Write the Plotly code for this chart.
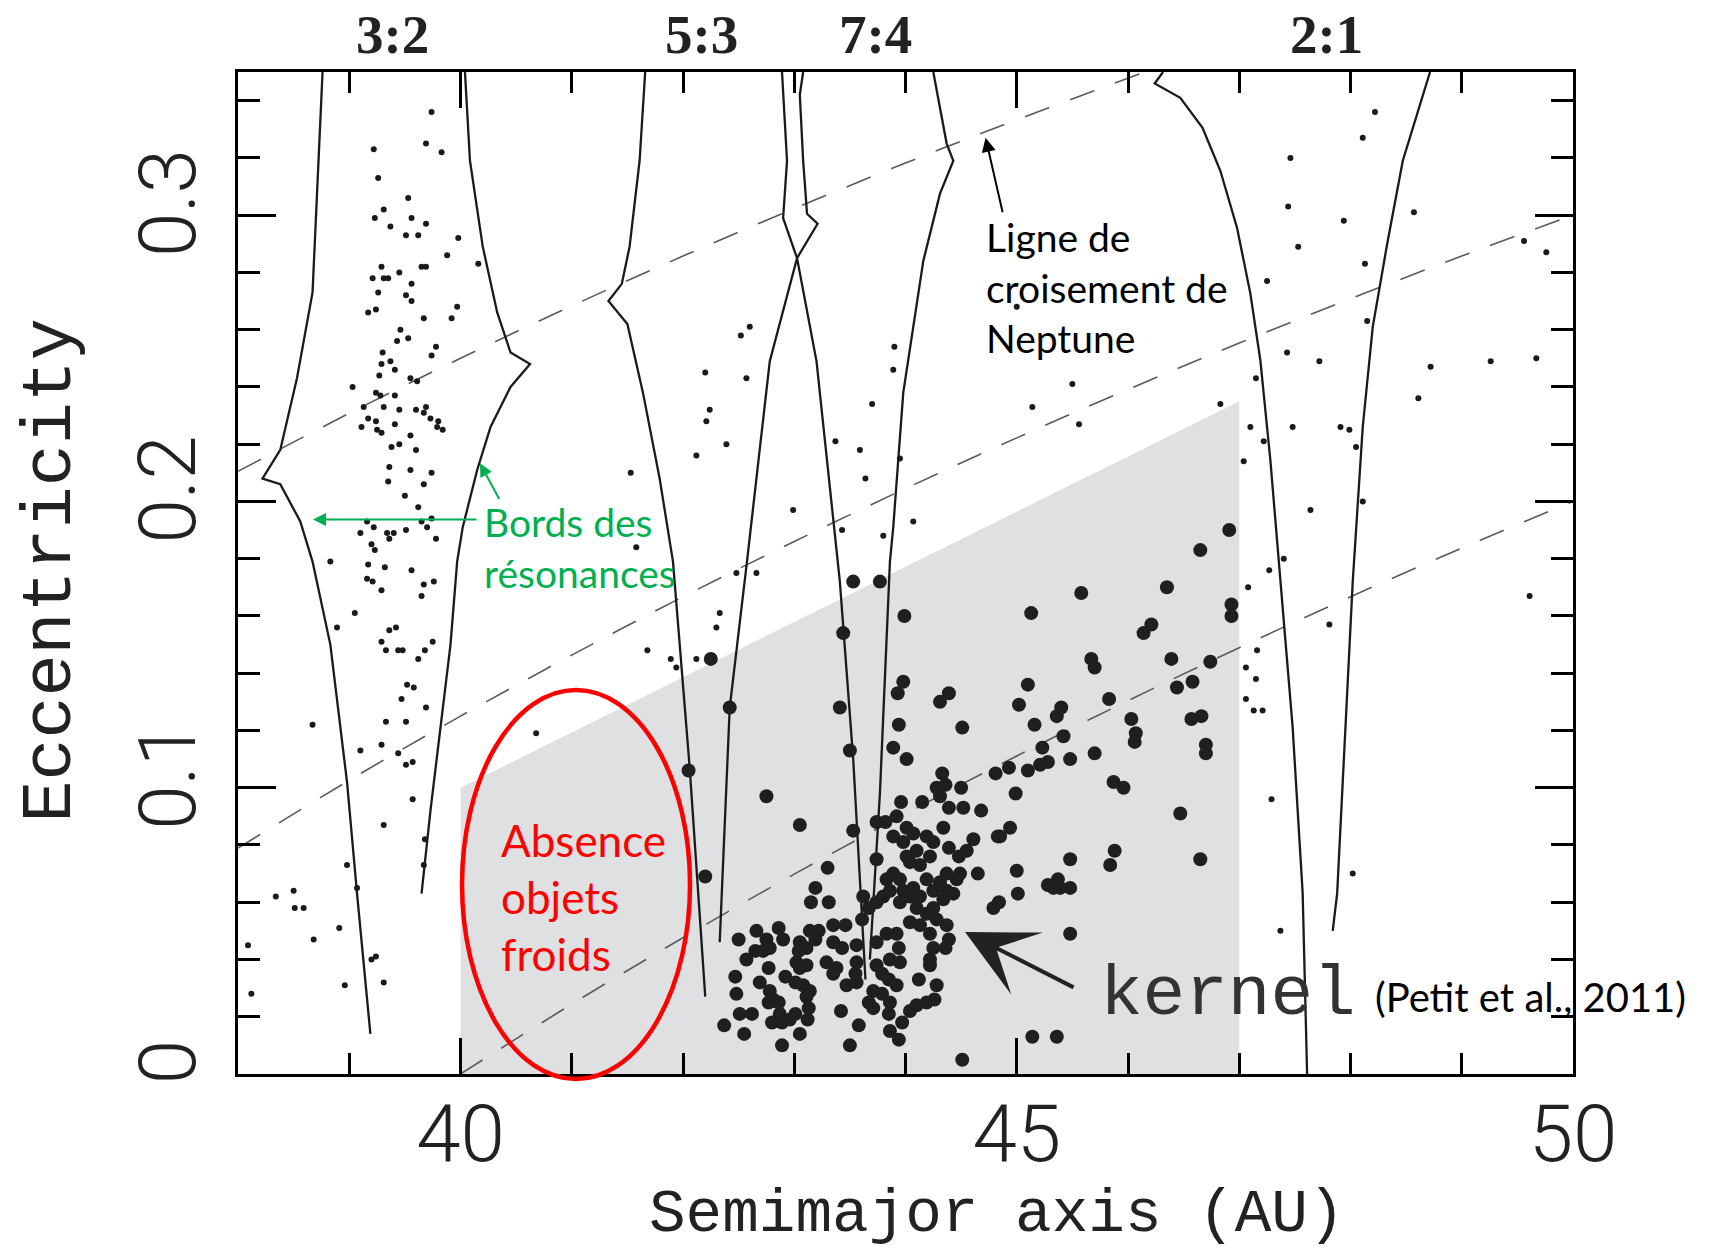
import plotly.graph_objects as go

# ---------------- data ----------------
# shaded "cold classical" region (a in AU, e)
cold_a = [40.0, 40.0, 47.0, 47.0, 40.0]
cold_e = [0.0, 0.100, 0.235, 0.0, 0.0]

# Neptune-crossing (dashed) lines
nep1_a = [38.0, 39.0, 40.0, 41.0, 42.0, 43.0, 44.0, 45.0, 46.15]
nep1_e = [0.2105, 0.2308, 0.250, 0.2683, 0.2857, 0.3023, 0.3182, 0.3333, 0.350]
nep2_a = [38.0, 39.0, 40.0, 41.0, 42.0, 43.0, 44.0, 45.0, 46.0, 47.0, 48.0, 49.0, 50.0]
nep2_e = [0.0789, 0.1026, 0.125, 0.1463, 0.1667, 0.186, 0.2045, 0.2222, 0.2391, 0.2553, 0.2708, 0.2857, 0.300]
nep3_a = [40.0, 41.0, 42.0, 43.0, 44.0, 45.0, 46.0, 47.0, 48.0, 49.0, 50.0]
nep3_e = [0.0, 0.0244, 0.0476, 0.0698, 0.0909, 0.1111, 0.1304, 0.1489, 0.1667, 0.1837, 0.200]

# resonance borders
l32_a = [38.76, 38.67, 38.53, 38.38, 38.22, 38.38, 38.56, 38.67, 38.83, 38.98, 39.07, 39.19]
l32_e = [0.350, 0.273, 0.243, 0.218, 0.208, 0.206, 0.193, 0.179, 0.150, 0.102, 0.063, 0.014]
r32_a = [40.04, 40.085, 40.20, 40.33, 40.45, 40.625, 40.45, 40.27, 40.15, 40.02, 39.97, 39.91, 39.82, 39.73, 39.65]
r32_e = [0.350, 0.319, 0.289, 0.266, 0.252, 0.248, 0.240, 0.226, 0.211, 0.191, 0.179, 0.150, 0.121, 0.092, 0.063]
l53_a = [41.66, 41.61, 41.52, 41.45, 41.33, 41.50, 41.64, 41.79, 41.91, 42.06, 42.20]
l53_e = [0.350, 0.319, 0.289, 0.276, 0.270, 0.262, 0.238, 0.208, 0.179, 0.107, 0.027]
r53_a = [42.33, 42.42, 42.575, 42.78, 43.025, 43.21, 43.115, 43.08, 43.05, 43.08]
r53_e = [0.046, 0.128, 0.179, 0.249, 0.285, 0.297, 0.3005, 0.319, 0.342, 0.350]
l74_a = [42.89, 42.935, 42.90, 43.025, 43.20, 43.41, 43.53, 43.64]
l74_e = [0.350, 0.319, 0.299, 0.285, 0.249, 0.172, 0.110, 0.033]
r74_a = [44.25, 44.29, 44.37, 44.43, 44.31, 44.16, 43.98, 43.89, 43.86, 43.77, 43.68]
r74_e = [0.350, 0.342, 0.325, 0.319, 0.3075, 0.284, 0.238, 0.191, 0.179, 0.098, 0.040]
l21_a = [46.315, 46.24, 46.47, 46.67, 46.83, 46.98, 47.10, 47.19, 47.28, 47.37, 47.48, 47.57, 47.61]
l21_e = [0.350, 0.346, 0.341, 0.3305, 0.3155, 0.2956, 0.2726, 0.2492, 0.2143, 0.1724, 0.1211, 0.0632, 0.0]
r21_a = [48.715, 48.47, 48.33, 48.20, 48.11, 48.02, 47.97, 47.88, 47.84]
r21_e = [0.350, 0.319, 0.290, 0.261, 0.226, 0.172, 0.133, 0.063, 0.050]

# small (hot / resonant) objects
small_a = [
    39.74, 39.69, 39.22, 39.83, 39.26, 39.53, 39.31, 39.23, 39.56, 39.69, 39.37, 39.51, 39.62, 39.98,
    39.88, 40.16, 39.29, 39.65, 39.69, 39.45, 39.21, 39.31, 39.35, 39.56, 39.26, 39.51, 39.56, 39.17,
    39.24, 39.97, 39.67, 39.92, 39.46, 39.43, 39.53, 39.78, 39.74, 39.30, 39.37, 39.29, 39.41, 39.27,
    39.55, 39.61, 39.03, 39.24, 39.28, 39.41, 39.13, 39.31, 39.69, 39.45, 39.60, 39.67, 39.73, 39.17,
    39.24, 39.80, 39.11, 39.25, 39.29, 39.41, 39.79, 39.84, 39.55, 39.45, 39.38, 39.60, 39.36, 39.55,
    39.74, 39.35, 39.67, 39.50, 39.62, 41.53, 41.58, 39.16, 39.22, 39.65, 39.74, 39.70, 39.10, 39.34,
    39.40, 39.51, 39.36, 39.78, 39.20, 39.23, 38.83, 39.17, 39.32, 39.56,
    39.16, 39.21, 39.29, 39.67, 39.76, 39.65, 39.05, 38.89, 39.36, 39.42, 39.29, 39.33, 39.44, 39.48,
    39.68, 39.75, 39.62, 39.52, 39.58, 39.47, 39.69, 38.67, 39.33, 39.51, 39.29, 39.10, 39.44, 39.51,
    39.57, 39.57, 39.31, 39.68, 38.98, 39.67, 39.07, 38.34, 38.50, 38.51, 38.59, 38.91, 38.68, 38.09,
    39.20, 39.24, 38.96, 39.31, 38.12, 40.68, 41.68, 41.89, 41.94,
    42.60, 42.52, 42.20, 42.57, 42.24, 42.21, 42.39, 42.12, 43.90, 43.89, 43.70, 43.37, 43.59, 43.95,
    43.64, 42.99, 43.43, 43.80, 44.07, 42.48, 42.66, 45.00, 45.50, 45.14, 45.56,
    48.22, 48.11, 47.46, 47.44, 48.57, 47.94, 47.53, 47.25, 48.13, 48.15, 49.56, 49.76, 47.43, 47.72,
    48.72, 49.26, 49.67, 47.15, 48.61, 46.83, 47.10, 47.48, 47.91, 47.99, 48.05, 47.22, 47.04, 48.11,
    47.64, 47.40, 47.27,
    47.08, 47.81, 49.61, 47.16, 47.06, 47.15, 47.06, 47.13, 47.21, 47.29, 48.02, 47.37,
    42.33, 42.30, 42.12,
]
small_e = [
    0.336, 0.325, 0.323, 0.322, 0.313, 0.306, 0.302, 0.299, 0.299, 0.297, 0.296, 0.293, 0.293, 0.292,
    0.286, 0.283, 0.282, 0.282, 0.282, 0.280, 0.278, 0.278, 0.278, 0.276, 0.273, 0.272, 0.270, 0.266,
    0.267, 0.268, 0.264, 0.264, 0.260, 0.256, 0.257, 0.254, 0.251, 0.252, 0.249, 0.248, 0.246, 0.244,
    0.243, 0.242, 0.240, 0.238, 0.237, 0.237, 0.233, 0.233, 0.233, 0.232, 0.232, 0.231, 0.229, 0.229,
    0.228, 0.228, 0.226, 0.225, 0.224, 0.227, 0.226, 0.225, 0.223, 0.220, 0.219, 0.218, 0.212, 0.211,
    0.210, 0.207, 0.206, 0.202, 0.198, 0.210, 0.184, 0.193, 0.191, 0.193, 0.194, 0.191, 0.189, 0.189,
    0.189, 0.190, 0.187, 0.187, 0.185, 0.183, 0.179, 0.178, 0.177, 0.176,
    0.173, 0.172, 0.169, 0.171, 0.172, 0.167, 0.161, 0.156, 0.155, 0.156, 0.151, 0.148, 0.148, 0.148,
    0.148, 0.151, 0.145, 0.136, 0.135, 0.131, 0.128, 0.122, 0.123, 0.123, 0.115, 0.113, 0.112, 0.108,
    0.109, 0.096, 0.087, 0.082, 0.073, 0.073, 0.065, 0.062, 0.064, 0.058, 0.058, 0.051, 0.047, 0.045,
    0.040, 0.041, 0.031, 0.032, 0.028, 0.119, 0.148, 0.145, 0.142,
    0.261, 0.258, 0.245, 0.243, 0.232, 0.228, 0.220, 0.216, 0.254, 0.246, 0.234, 0.221, 0.218, 0.215,
    0.208, 0.197, 0.190, 0.188, 0.193, 0.175, 0.175, 0.268, 0.241, 0.233, 0.227,
    0.336, 0.327, 0.320, 0.303, 0.301, 0.298, 0.289, 0.277, 0.283, 0.263, 0.291, 0.287, 0.252, 0.249,
    0.247, 0.249, 0.250, 0.243, 0.236, 0.234, 0.226, 0.226, 0.226, 0.225, 0.219, 0.221, 0.214, 0.200,
    0.197, 0.180, 0.176,
    0.170, 0.157, 0.167, 0.148, 0.142, 0.138, 0.131, 0.127, 0.127, 0.096, 0.070, 0.050,
    0.161, 0.156, 0.145,
]

# large (cold classical / kernel) objects
big_a = [
    46.91, 46.65,
    45.58, 46.35, 46.93, 46.93, 46.21, 46.14, 45.67, 45.70, 46.39, 46.74, 46.44, 46.58, 45.83, 46.03,
    46.57, 46.66, 46.07, 46.06, 46.70, 46.70, 45.48, 45.70, 45.87, 45.96, 46.47, 45.48, 45.88, 45.84,
    46.65, 45.48, 45.48,
    42.25, 43.53, 43.77, 43.99, 45.13, 43.44, 43.98, 45.10, 43.93, 44.39, 44.31, 43.41, 45.02, 45.40,
    45.36, 42.42, 43.94, 44.51, 45.16, 45.42, 43.89, 43.50, 45.23, 44.01, 45.28, 45.21, 45.10, 44.93,
    44.81, 44.33, 42.05, 44.99, 44.94, 44.85, 45.00, 45.28, 45.37, 45.39, 45.33, 45.01, 44.84, 45.14,
    45.36,
    42.75, 43.05, 42.20, 43.30, 43.19, 43.15, 43.31, 43.53, 43.74, 43.74, 43.62, 43.67, 43.74, 43.96,
    44.15, 44.28, 44.36, 44.31, 44.39, 44.50, 44.52, 44.68, 43.82, 43.92, 44.01, 43.89, 43.98, 44.07,
    44.19, 44.25, 44.10, 44.01, 44.34, 44.39, 44.48, 44.55, 44.22, 44.13, 44.04, 44.61, 44.83, 44.65,
    44.49, 44.37, 44.31, 43.89, 43.83, 43.95, 43.98, 43.86, 43.80, 44.07, 44.19, 44.25, 44.13, 44.04,
    44.37, 44.43, 44.34, 44.46, 43.95, 44.10, 44.25, 44.19, 44.79,
    42.50, 42.66, 42.86, 42.90, 42.75, 42.65, 42.72, 42.78, 42.57, 42.47, 42.77, 42.69, 42.48, 42.51,
    42.62, 42.37, 42.55, 42.89, 43.05, 43.11, 43.04, 43.14, 43.22, 43.19, 43.02, 43.11, 43.05, 42.92,
    43.01, 43.08, 43.14, 43.11, 42.78, 42.81, 42.77, 42.86, 42.87, 43.01, 42.96, 42.80, 42.89, 43.13,
    43.12, 43.05, 43.35, 43.46, 43.35, 43.43, 43.56, 43.29, 43.38, 43.35, 43.56, 43.55, 43.56, 43.47,
    43.42, 43.58, 43.50, 43.61, 43.74, 43.83, 43.92, 43.94, 43.95, 43.86, 43.74, 43.79, 43.85, 43.92,
    43.71, 43.79, 43.86, 43.67, 43.71, 43.85, 43.97, 44.04, 44.10, 44.19, 44.26, 43.86, 43.94, 44.04,
    44.13, 44.28, 44.37, 44.22, 44.39, 44.36, 44.25, 44.22, 44.22, 44.12, 44.28, 44.51,
]
big_e = [
    0.190, 0.183,
    0.168, 0.170, 0.164, 0.160, 0.157, 0.154, 0.145, 0.142, 0.145, 0.144, 0.135, 0.137, 0.131, 0.124,
    0.124, 0.125, 0.119, 0.116, 0.115, 0.112, 0.110, 0.112, 0.102, 0.100, 0.091, 0.075, 0.078, 0.073,
    0.075, 0.065, 0.049,
    0.145, 0.172, 0.172, 0.160, 0.161, 0.154, 0.137, 0.136, 0.133, 0.133, 0.130, 0.128, 0.129, 0.128,
    0.125, 0.128, 0.122, 0.121, 0.122, 0.118, 0.114, 0.113, 0.114, 0.110, 0.109, 0.108, 0.106, 0.107,
    0.105, 0.105, 0.106, 0.098, 0.086, 0.083, 0.071, 0.066, 0.068, 0.065, 0.065, 0.063, 0.060, 0.013,
    0.013,
    0.097, 0.087, 0.069, 0.072, 0.065, 0.060, 0.060, 0.085, 0.088, 0.075, 0.062, 0.058, 0.060, 0.095,
    0.095, 0.100, 0.101, 0.097, 0.093, 0.100, 0.093, 0.092, 0.088, 0.090, 0.086, 0.083, 0.081, 0.084,
    0.083, 0.081, 0.078, 0.076, 0.086, 0.079, 0.076, 0.078, 0.076, 0.073, 0.074, 0.082, 0.083, 0.070,
    0.070, 0.070, 0.067, 0.070, 0.068, 0.068, 0.064, 0.064, 0.062, 0.065, 0.068, 0.064, 0.062, 0.062,
    0.064, 0.063, 0.061, 0.068, 0.060, 0.058, 0.058, 0.056, 0.058,
    0.047, 0.050, 0.051, 0.047, 0.047, 0.043, 0.043, 0.044, 0.040, 0.034, 0.037, 0.032, 0.028, 0.021,
    0.021, 0.017, 0.014, 0.010, 0.046, 0.044, 0.043, 0.050, 0.050, 0.047, 0.039, 0.038, 0.037, 0.034,
    0.032, 0.031, 0.029, 0.027, 0.029, 0.026, 0.025, 0.025, 0.021, 0.021, 0.019, 0.018, 0.018, 0.023,
    0.019, 0.014, 0.052, 0.052, 0.046, 0.044, 0.045, 0.039, 0.037, 0.035, 0.039, 0.035, 0.032, 0.031,
    0.022, 0.017, 0.010, 0.054, 0.046, 0.049, 0.049, 0.044, 0.039, 0.040, 0.038, 0.035, 0.033, 0.031,
    0.029, 0.028, 0.025, 0.025, 0.023, 0.021, 0.018, 0.022, 0.024, 0.025, 0.026, 0.015, 0.012, 0.053,
    0.052, 0.054, 0.052, 0.049, 0.047, 0.044, 0.044, 0.040, 0.038, 0.033, 0.031, 0.005,
]

# resonance labels on top
res_labels = ["3:2", "5:3", "7:4", "2:1"]
res_pos = [39.39, 42.17, 43.73, 47.78]

x_ticks = [40, 45, 50]
y_ticks = [0, 0.1, 0.2, 0.3]
y_ticklabels = ["0", "0.1", "0.2", "0.3"]

# ---------------- figure ----------------
fig = go.Figure()

fig.add_trace(go.Scatter(x=cold_a, y=cold_e, mode="lines", fill="toself",
                         fillcolor="#dfe0e2", line=dict(width=0), hoverinfo="skip"))

for xa, ye in [(nep1_a, nep1_e), (nep2_a, nep2_e), (nep3_a, nep3_e)]:
    fig.add_trace(go.Scatter(x=xa, y=ye, mode="lines",
                             line=dict(color="#5a5a5a", width=1.6, dash="26px,22px", shape="spline"),
                             hoverinfo="skip"))

for xa, ye in [(l32_a, l32_e), (r32_a, r32_e), (l53_a, l53_e), (r53_a, r53_e),
               (l74_a, l74_e), (r74_a, r74_e), (l21_a, l21_e), (r21_a, r21_e)]:
    fig.add_trace(go.Scatter(x=xa, y=ye, mode="lines",
                             line=dict(color="#1a1a1a", width=2.3), hoverinfo="skip"))

fig.add_trace(go.Scatter(x=small_a, y=small_e, mode="markers",
                         marker=dict(color="#1a1a1a", size=6, line=dict(width=0))))
fig.add_trace(go.Scatter(x=big_a, y=big_e, mode="markers",
                         marker=dict(color="#1f1f1f", size=14, line=dict(width=0))))

axis_common = dict(showline=True, linecolor="black", linewidth=3, mirror="allticks",
                   ticks="inside", tickwidth=3, tickcolor="black", showgrid=False, zeroline=False,
                   tickfont=dict(family="Roboto", size=80, color="#222", weight=300))

fig.update_xaxes(range=[38, 50], tickvals=x_ticks, ticklen=36,
                 minor=dict(dtick=1, tick0=38, ticks="inside", ticklen=21, tickwidth=3, tickcolor="black"),
                 ticklabelstandoff=-12, **axis_common)
fig.update_yaxes(range=[0, 0.35], tickvals=y_ticks, ticktext=y_ticklabels, ticklen=38, tickangle=-90,
                 minor=dict(dtick=0.02, tick0=0, ticks="inside", ticklen=22, tickwidth=3, tickcolor="black"),
                 ticklabelstandoff=8, **axis_common)

ann = []
for lab, pos in zip(res_labels, res_pos):
    ann.append(dict(x=pos, y=1.037, xref="x", yref="paper", text=lab, showarrow=False,
                    font=dict(family="Liberation Serif", size=55, color="#222", weight="bold"),
                    xanchor="center", yanchor="middle"))

ann.append(dict(x=0.5685, y=-0.140, xref="paper", yref="paper", text="Semimajor axis (AU)",
                showarrow=False, font=dict(family="Liberation Mono", size=61, color="#222"),
                xanchor="center", yanchor="middle"))
ann.append(dict(x=-0.139, y=0.503, xref="paper", yref="paper", text="Eccentricity", textangle=-90,
                showarrow=False, font=dict(family="Liberation Mono", size=70, color="#222"),
                xanchor="center", yanchor="middle"))

# Neptune crossing label + arrow
ann.append(dict(x=0.5588, y=0.7854, xref="paper", yref="paper",
                text="Ligne de<br>croisement de<br>Neptune", align="left", showarrow=False,
                font=dict(family="Lato", size=39, color="black"), xanchor="left", yanchor="middle"))
ann.append(dict(x=44.72, y=0.327, ax=44.876, ay=0.3005, xref="x", yref="y", axref="x", ayref="y",
                text="", showarrow=True, arrowhead=2, arrowsize=1.4, arrowwidth=2, arrowcolor="black"))

# resonance borders label + arrows
green = "#00b050"
ann.append(dict(x=0.1828, y=0.5254, xref="paper", yref="paper",
                text="Bords des<br>résonances", align="left", showarrow=False,
                font=dict(family="Lato", size=39, color=green), xanchor="left", yanchor="middle"))
ann.append(dict(x=38.674, y=0.1937, ax=40.157, ay=0.1937, xref="x", yref="y", axref="x", ayref="y",
                text="", showarrow=True, arrowhead=2, arrowsize=1.3, arrowwidth=2, arrowcolor=green))
ann.append(dict(x=40.175, y=0.2133, ax=40.355, ay=0.2003, xref="x", yref="y", axref="x", ayref="y",
                text="", showarrow=True, arrowhead=2, arrowsize=1.3, arrowwidth=2, arrowcolor=green))

# absence of cold objects
ann.append(dict(x=0.1955, y=0.1766, xref="paper", yref="paper",
                text="Absence<br>objets<br>froids", align="left", showarrow=False,
                font=dict(family="Lato", size=44, color="#ff0000"), xanchor="left", yanchor="middle"))

# kernel
ann.append(dict(x=0.6442, y=0.0788, xref="paper", yref="paper", text="kernel", showarrow=False,
                font=dict(family="Liberation Mono", size=71, color="#333"), xanchor="left", yanchor="middle"))
ann.append(dict(x=44.535, y=0.0496, ax=45.524, ay=0.030, xref="x", yref="y", axref="x", ayref="y",
                text="", showarrow=True, arrowhead=3, arrowsize=2.9, arrowwidth=4, arrowcolor="#222"))
ann.append(dict(x=0.8502, y=0.0768, xref="paper", yref="paper", text="(Petit et al., 2011)",
                showarrow=False, font=dict(family="Lato", size=40, color="black"),
                xanchor="left", yanchor="middle"))

fig.update_layout(
    width=1727, height=1249,
    margin=dict(l=238, r=154, t=72, b=175),
    paper_bgcolor="white", plot_bgcolor="white",
    showlegend=False,
    annotations=ann,
    shapes=[dict(type="circle", xref="paper", yref="paper", x0=0.1678, x1=0.3386, y0=-0.005, y1=0.3832,
                 line=dict(color="#ff0000", width=4.5), layer="above")],
)

# remove the default 8px page margin so the figure fills the window exactly
fig.write_html("out.html", config={"displayModeBar": False},
               post_script="document.body.style.margin='0px';")
